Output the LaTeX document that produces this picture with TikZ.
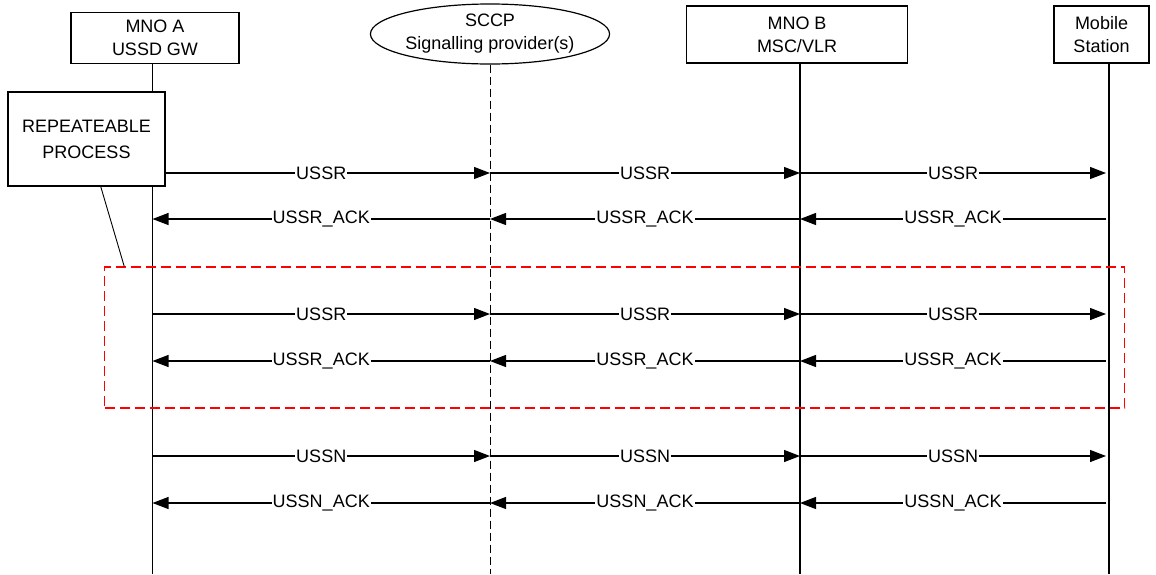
\documentclass[tikz,border=0pt]{standalone}
\usepackage{fontspec}
\setmainfont{Liberation Sans}
\usetikzlibrary{arrows.meta,shapes.geometric,calc}
\begin{document}
\begin{tikzpicture}[x=1pt,y=-1pt,
  every node/.style={font=\fontsize{18}{23}\selectfont},
  entity/.style={draw,line width=1.2pt,fill=white,inner sep=0pt,align=center},
  life/.style={line width=1.2pt},
  msg/.style={line width=1.2pt,-{Triangle[length=16pt,width=12pt]}},
  lbl/.style={fill=white,inner sep=1pt,midway},
  reddash/.style={draw=red,line width=1.2pt,dash pattern=on 10pt off 5pt},
  blackdash/.style={line width=0.9pt,dash pattern=on 8pt off 4pt}]
\useasboundingbox (0,0) rectangle (1156,574);
% entities
\node[entity,minimum width=168pt,minimum height=51pt] (mnoa) at (155,38) {MNO A\\USSD GW};
\node[entity,ellipse,minimum width=226pt,minimum height=60pt] (sccp) at (490,34) {SCCP\\Signalling provider(s)};
\node[entity,minimum width=221pt,minimum height=57pt] (mnob) at (797,34.5) {MNO B\\MSC/VLR};
\node[entity,minimum width=95pt,minimum height=57pt] (ms) at (1101.5,34.5) {Mobile\\Station};
% lifeline bottoms
\coordinate (aEnd) at (152.5,574);
\coordinate (sEnd) at (490,574);
\coordinate (bEnd) at (800,574);
\coordinate (mEnd) at (1109,574);
\draw[life] (152.5,63.5) -- (aEnd);
\draw[blackdash] (sccp.south) -- (sEnd);
\draw[life] (800,63) -- (bEnd);
\draw[life] (1109,63) -- (mEnd);
% repeat region
\node[reddash,minimum width=1020pt,minimum height=141pt,inner sep=0pt] (rep) at (614.85,337.5) {};
% row coordinates
\foreach \r/\y in {1/173,2/219,3/314,4/361,5/456,6/503}{
  \coordinate (a\r) at (152.5,\y);
  \coordinate (s\r) at (490,\y);
  \coordinate (b\r) at (800,\y);
  \coordinate (m\r) at (1109,\y);
}
% messages
\foreach \r/\t in {1/USSR,3/USSR,5/USSN}{
  \draw[msg] (a\r) -- node[lbl]{\t} (s\r);
  \draw[msg] (s\r) -- node[lbl]{\t} (b\r);
  \draw[msg] (b\r) -- node[lbl]{\t} ($(m\r)+(-3,0)$);
}
\foreach \r/\t in {2/USSR\_ACK,4/USSR\_ACK,6/USSN\_ACK}{
  \draw[msg] ($(m\r)+(-3,0)$) -- node[lbl]{\t} (b\r);
  \draw[msg] (b\r) -- node[lbl]{\t} (s\r);
  \draw[msg] (s\r) -- node[lbl]{\t} (a\r);
}
% repeatable process box
\node[entity,minimum width=157pt,minimum height=94pt,
  font=\fontsize{18}{26}\selectfont] (proc) at (86.5,139) {REPEATEABLE\\PROCESS};
\draw[line width=0.9pt] ($(proc.south west)!0.59!(proc.south east)$) -- ($(rep.north west)+(20,0)$);
\end{tikzpicture}
\end{document}
